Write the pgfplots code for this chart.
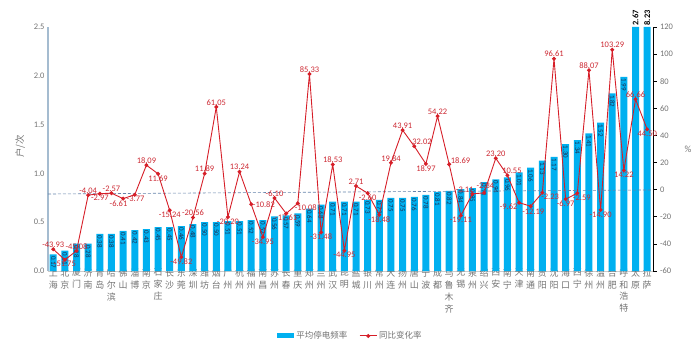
\documentclass[border=0pt]{standalone}
\usepackage{pgfplots}
\pgfplotsset{compat=1.18}
\usepackage{pgfplotstable}
\usepackage{fontspec}
\setmainfont{Carlito}
\newfontfamily\cjk{Noto Sans CJK SC}
\definecolor{barblue}{RGB}{0,176,240}
\definecolor{linered}{RGB}{214,30,40}
\definecolor{lblred}{RGB}{204,40,50}
\definecolor{axisblue}{RGB}{165,188,208}
\definecolor{dashblue}{RGB}{100,130,170}
\definecolor{tickgray}{RGB}{115,115,115}
\definecolor{barlbl}{RGB}{30,45,80}

\pgfplotstableread{
x bar blab pct
0 0.17 0.17 -43.93
1 0.21 0.21 -51.75
2 0.28 0.28 -45.08
3 0.28 0.28 -4.04
4 0.38 0.38 -2.97
5 0.38 0.38 -2.57
6 0.41 0.41 -6.61
7 0.42 0.42 -3.77
8 0.43 0.43 18.09
9 0.45 0.45 11.69
10 0.45 0.45 -15.24
11 0.46 0.46 -49.82
12 0.48 0.48 -20.56
13 0.50 0.50 11.89
14 0.50 0.50 61.05
15 0.51 0.51 -20.20
16 0.51 0.51 13.24
17 0.52 0.52 -10.82
18 0.52 0.52 -34.95
19 0.56 0.56 -6.10
20 0.57 0.57 -17.61
21 0.59 0.59 -10.08
22 0.64 0.64 85.33
23 0.68 0.68 -31.48
24 0.71 0.71 18.53
25 0.71 0.71 -44.95
26 0.71 0.71 2.71
27 0.73 0.73 -2.60
28 0.73 0.73 -18.48
29 0.75 0.75 19.84
30 0.75 0.75 43.91
31 0.76 0.76 32.02
32 0.78 0.78 18.97
33 0.81 0.81 54.22
34 0.82 0.82 18.69
35 0.84 0.84 -19.11
36 0.85 0.85 -3.11
37 0.91 0.91 -2.34
38 0.94 0.94 23.20
39 0.96 0.96 10.55
40 1.01 1.01 -9.62
41 1.06 1.06 -12.19
42 1.13 1.13 -2.23
43 1.17 1.17 96.61
44 1.30 1.30 -6.97
45 1.34 1.34 -2.59
46 1.41 1.41 88.07
47 1.52 1.52 -14.90
48 1.82 1.82 103.29
49 1.99 1.99 14.22
50 2.5 2.67 66.66
51 2.5 8.23 44.50
}\data

\pgfplotsset{lbl/.style={draw=none, mark=none, nodes near coords, point meta=explicit symbolic,
  every node near coord/.append style={anchor=#1, font=\fontsize{8.5}{10}\selectfont, text=lblred, inner sep=1.5bp}}}

\begin{document}
\begin{tikzpicture}
\useasboundingbox (-48bp,-80bp) rectangle (652bp,271bp);
\begin{axis}[
  scale only axis, width=605bp, height=244bp,
  xmin=-0.45, xmax=51.5, ymin=0, ymax=2.5,
  ytick={0,0.5,1,1.5,2,2.5},
  axis y line*=left, axis x line*=bottom,
  y axis line style={axisblue, line width=1.5bp, -},
  x axis line style={draw=gray!40, -},
  major tick length=0pt,
  clip=false,
  /pgf/number format/assume math mode=true,
  yticklabel style={font=\fontsize{8.5}{10}\selectfont, text=tickgray, /pgf/number format/.cd, fixed, fixed zerofill, precision=1},
  xtick={0,...,51},
  xticklabels={{上\\海},{北\\京},{厦\\门},{济\\南},{青\\岛},{哈\\尔\\滨},{佛\\山},{淄\\博},{南\\京},{石\\家\\庄},{长\\沙},{东\\莞},{深\\圳},{潍\\坊},{烟\\台},{广\\州},{杭\\州},{福\\州},{南\\昌},{苏\\州},{长\\春},{重\\庆},{郑\\州},{兰\\州},{武\\汉},{昆\\明},{盐\\城},{银\\川},{常\\州},{大\\连},{扬\\州},{唐\\山},{宁\\波},{成\\都},{乌\\鲁\\木\\齐},{无\\锡},{泉\\州},{绍\\兴},{西\\安},{南\\宁},{天\\津},{南\\通},{贵\\阳},{沈\\阳},{海\\口},{西\\宁},{徐\\州},{温\\州},{合\\肥},{呼\\和\\浩\\特},{太\\原},{拉\\萨}},
  xticklabel style={font=\cjk\fontsize{9}{12}\selectfont, text=tickgray, align=center, inner sep=0.5bp, yshift=3bp},
  ylabel={户/次},
  ylabel style={at={(axis description cs:-0.046,0.51)}, anchor=center, font=\cjk\fontsize{9.5}{11}\selectfont, text=tickgray},
  legend columns=2,
  legend style={draw=none, at={(axis description cs:0.5,-0.266)}, anchor=center, font=\cjk\fontsize{8.5}{10}\selectfont, text=tickgray, /tikz/every even column/.append style={column sep=10bp}},
]
\addplot[ybar, bar width=7bp, bar shift=0pt, fill=barblue, draw=none,
  restrict x to domain=0:49,
  legend image code/.code={\fill[barblue] (0bp,-2.5bp) rectangle (17bp,2.5bp);},
  nodes near coords, point meta=explicit symbolic,
  every node near coord/.append style={rotate=-90, anchor=west, font=\fontsize{7}{8}\selectfont, text=barlbl, inner sep=1.5bp}]
  table[x=x, y=bar, meta=blab] {\data};
\addlegendentry{平均停电频率}
\addplot[ybar, bar width=7bp, bar shift=0pt, fill=barblue, draw=none, forget plot,
  restrict x to domain=50:51,
  nodes near coords, point meta=explicit symbolic,
  every node near coord/.append style={rotate=90, anchor=west, font=\bfseries\fontsize{8.5}{10}\selectfont, text=black, inner sep=1.5bp}]
  table[x=x, y=bar, meta=blab] {\data};
\addlegendimage{linered, line width=0.9bp, mark=*, mark size=1.5bp}
\addlegendentry{同比变化率}
\end{axis}
\begin{axis}[
  scale only axis, width=605bp, height=244bp,
  xmin=-0.45, xmax=51.5, ymin=-60, ymax=120,
  ytick={-60,-40,-20,0,20,40,60,80,100,120},
  axis y line*=right, axis x line=none,
  y axis line style={black, -, line width=0.6bp},
  ytick style={black, line width=0.6bp},
  tick align=outside, major tick length=3.5bp,
  /pgf/number format/assume math mode=true,
  yticklabel style={font=\fontsize{8.5}{10}\selectfont, text=tickgray},
  ylabel={\%},
  ylabel style={rotate=-90, at={(axis description cs:1.058,0.5)}, anchor=center, font=\fontsize{9.5}{11}\selectfont, text=tickgray},
  clip=false,
]
\addplot[dashblue, line width=0.6bp, dash pattern=on 3bp off 2bp] coordinates {(-0.45,-3.2) (51.5,-0.2)};
\addplot[linered, line width=0.9bp, mark=*, mark size=1.5bp] table[x=x, y=pct] {\data};
% labels above
\addplot[lbl=270] coordinates {(0,-43.93)[-43.93] (2,-45.08)[-45.08] (3,-4.04)[-4.04] (5,-2.57)[-2.57] (8,18.09)[18.09] (12,-20.56)[-20.56] (13,11.89)[11.89] (14,61.05)[61.05] (16,13.24)[13.24] (19,-6.10)[-6.10] (22,85.33)[85.33] (24,18.53)[18.53] (26,2.71)[2.71] (29,19.84)[19.84] (30,43.91)[43.91] (33,54.22)[54.22] (38,23.20)[23.20] (43,96.61)[96.61] (46,88.07)[88.07] (48,103.29)[103.29] (50,66.66)[66.66]};
\addplot[lbl=330] coordinates {(36,-3.11)[-3.11]};
\addplot[lbl=255, every node near coord/.append style={yshift=3bp}] coordinates {(37,-2.34)[-2.34]};
% labels below
\addplot[lbl=90] coordinates {(1,-51.75)[-51.75] (4,-2.97)[-2.97] (9,11.69)[11.69] (10,-15.24)[-15.24] (11,-49.82)[-49.82] (15,-20.20)[-20.20] (18,-34.95)[-34.95] (20,-17.61)[-17.61] (23,-31.48)[-31.48] (25,-44.95)[-44.95] (27,-2.60)[-2.60] (28,-18.48)[-18.48] (32,18.97)[18.97] (35,-19.11)[-19.11] (44,-6.97)[-6.97] (47,-14.90)[-14.90] (49,14.22)[14.22] (51,44.50)[44.50]};
\addplot[lbl=45] coordinates {(6,-6.61)[-6.61]};
\addplot[lbl=100] coordinates {(7,-3.77)[-3.77]};
\addplot[lbl=20] coordinates {(40,-9.62)[-9.62]};
\addplot[lbl=120, every node near coord/.append style={yshift=-1bp}] coordinates {(41,-12.19)[-12.19]};
\addplot[lbl=180] coordinates {(17,-10.82)[-10.82]};
\addplot[lbl=150] coordinates {(21,-10.08)[-10.08] (42,-2.23)[-2.23]};
\addplot[lbl=210] coordinates {(31,32.02)[32.02]};
\addplot[lbl=200] coordinates {(34,18.69)[18.69]};
\addplot[lbl=225] coordinates {(39,10.55)[10.55]};
\addplot[lbl=135] coordinates {(45,-2.59)[-2.59]};
\end{axis}
\end{tikzpicture}
\end{document}
